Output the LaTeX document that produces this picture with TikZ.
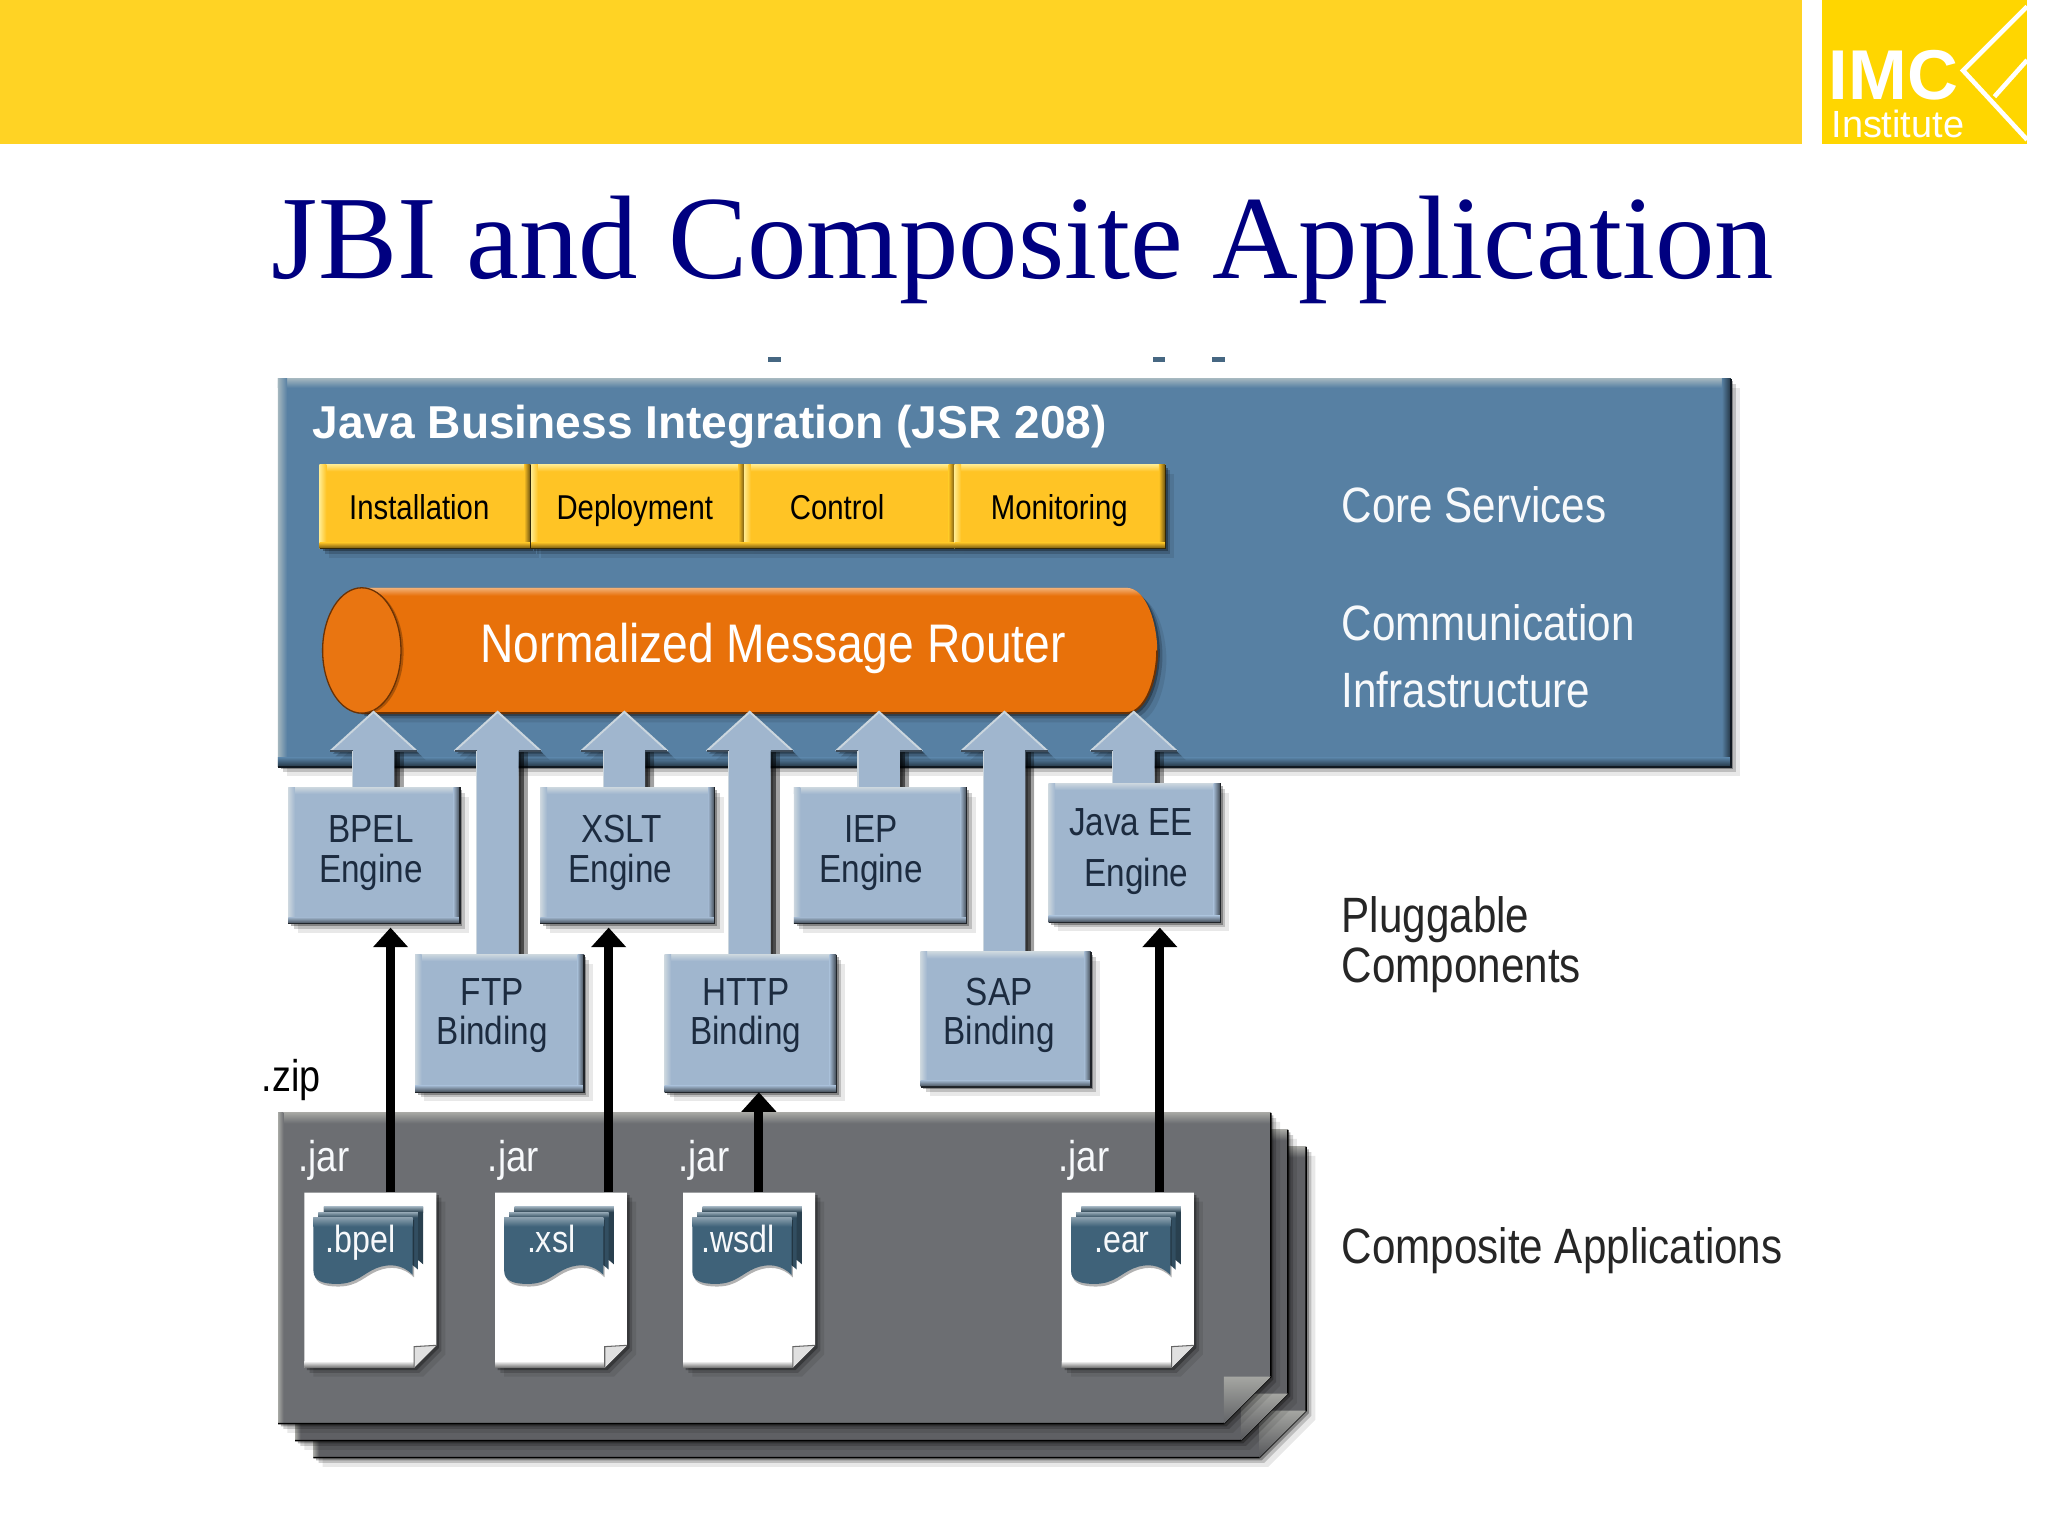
\documentclass[tikz,border=0pt]{standalone}
\usepackage{fontspec}
\setmainfont{Liberation Sans}
\newfontfamily\cond{Liberation Sans}[FakeStretch=0.85]
\newfontfamily\serifa{Liberation Serif}
\usetikzlibrary{arrows.meta,shadows,fit}

\definecolor{band}{HTML}{FFD324}
\definecolor{logoc}{HTML}{FFD600}
\definecolor{navy}{HTML}{000080}
\definecolor{panelc}{HTML}{5780A3}
\definecolor{panelchi}{HTML}{A3B6BE}
\definecolor{yel}{HTML}{FFC425}
\definecolor{yelhi}{HTML}{FFE98A}
\definecolor{orng}{HTML}{E8710A}
\definecolor{orngd}{HTML}{6A3205}
\definecolor{steel}{HTML}{A0B6CE}
\definecolor{steelhi}{HTML}{CBD6DE}
\definecolor{steello}{HTML}{3E4C5A}
\definecolor{ink}{HTML}{1C2B3F}
\definecolor{sheet}{HTML}{6C6E72}
\definecolor{sheethi}{HTML}{A5A6A2}
\definecolor{sheetb}{HTML}{5F6064}
\definecolor{scroll}{HTML}{3F6279}

\tikzset{
  soft/.style={drop shadow={shadow xshift=2pt,shadow yshift=-2pt,fill=black,opacity=.3},
               drop shadow={shadow xshift=4pt,shadow yshift=-4pt,fill=black,opacity=.18},
               drop shadow={shadow xshift=7pt,shadow yshift=-7pt,fill=black,opacity=.09}},
  txt/.style={inner sep=0,anchor=base,font=\cond\fontsize{#1}{#1}\selectfont},
  tier/.style={inner sep=0,anchor=base west,font=\cond\fontsize{38}{38}\selectfont},
  feed/.style={line width=7pt,black,-{Triangle[width=26pt,length=15pt]}},
}

% filled box with lit top/left and dark bottom/right edges
\newcommand\bevelbox[7][5pt]{%
  \node[fit={(#3,#4)(#5,#6)},inner sep=0,fill=#7,soft] (#2) {};
  \shade[top color=#7hi,bottom color=#7] (#2.north west) rectangle ([yshift=-#1]#2.north east);
  \shade[left color=#7hi,right color=#7] (#2.north west) rectangle ([xshift=#1]#2.south west);
  \shade[left color=#7,right color=#7!40!black] ([xshift=-#1]#2.north east) rectangle (#2.south east);
  \shade[top color=#7,bottom color=#7!40!black] ([yshift=#1]#2.south west) rectangle (#2.south east);
  \draw[#7!20!black,line width=1pt] (#2.north east) -- (#2.south east) -- (#2.south west);
}

% block arrow from a box up to the router: tip x, lower end y
\newcommand\blockarrow[2]{%
  \fill[black,opacity=.6] (#1+16,576) rectangle (#1+20,#2);
  \fill[black,opacity=.3] (#1+20,576) rectangle (#1+23,#2);
  \fill[steel,soft] (#1,545) -- (#1+33,575) -- (#1+16,575) -- (#1+16,#2)
    -- (#1-16,#2) -- (#1-16,575) -- (#1-33,575) -- cycle;
  \draw[steelhi,line width=1.5pt] (#1-33,575) -- (#1,545) -- (#1+33,575);
  \draw[steello,line width=1.5pt] (#1-33,575) -- (#1-16,575) (#1+16,575) -- (#1+33,575);
  \draw[steelhi,line width=1pt] (#1-16,575) -- (#1-16,#2);
}

% stacked sheet with folded corner, top left corner given
\newcommand\pilesheet[3]{%
  \begin{scope}[shift={(#1,#2)}]
    \fill[#3,soft] (0,0) -- (760,0) -- (760,202) -- (724,238) -- (0,238) -- cycle;
    \shade[top color=sheethi,bottom color=#3] (0,0) rectangle (760,8);
    \shade[left color=sheethi,right color=#3] (0,0) rectangle (4,238);
    \draw[black,line width=1.2pt] (760,0) -- (760,202) -- (724,238) -- (0,238);
    \shade[top color=sheethi,bottom color=#3!90!black] (724,202) -- (760,202) -- (724,238) -- cycle;
  \end{scope}
}

% document page with a scroll icon on it: name, left x, label, label x
\newcommand\docpage[4]{%
  \begin{scope}[shift={(#2,913)}]
    \fill[white,soft] (0,0) -- (101,0) -- (101,117) -- (84,134) -- (0,134) -- cycle;
    \node[fit={(0,0)(101,134)},inner sep=0] (#1) {};
    \shade[top color=white,bottom color=black!55] (0,129) rectangle (84,134);
    \fill[black!12] (84,134) -- (84,118) -- (101,117) -- cycle;
    \draw[black!60,line width=.8pt] (84,134) -- (84,118) -- (101,117);
    \foreach \dx/\dy/\c in {8/-8/scroll!65!black,4/-4/scroll!80!black} {
      \fill[\c,shift={(\dx,\dy)}] (7,19) -- (83,19) -- (83,63)
        .. controls (75,55) and (65,54) .. (55,58)
        .. controls (45,62) and (40,70) .. (25,70)
        .. controls (15,70) and (7,68) .. (7,60) -- cycle;
      \shade[top color=scroll!55!white,bottom color=\c,shift={(\dx,\dy)}] (7,19) rectangle (83,23);
    }
    \fill[scroll,drop shadow={shadow xshift=1pt,shadow yshift=-2pt,fill=black,opacity=.3}] (7,19) -- (83,19) -- (83,63)
      .. controls (75,55) and (65,54) .. (55,58)
      .. controls (45,62) and (40,70) .. (25,70)
      .. controls (15,70) and (7,68) .. (7,60) -- cycle;
    \shade[top color=scroll!60!white,bottom color=scroll] (7,19) rectangle (83,26);
  \end{scope}
  \node[txt=29,text=white!92!steel] (#1-lbl) at (#4,959) {#3};
}

\begin{document}
\begin{tikzpicture}[x=1pt,y=-1pt]
\useasboundingbox (0,0) rectangle (1568,1176);
\fill[white] (0,0) rectangle (1568,1176);

% header band and logo
\fill[band] (0,0) rectangle (1380,110);
\fill[logoc] (1395,0) rectangle (1552,110);
\draw[white,line width=3.5pt] (1552,5) -- (1503,54) -- (1552,107);
\draw[white,line width=3.5pt] (1552,46) -- (1527,74);
\node[inner sep=0,anchor=base west,text=white,font=\bfseries\fontsize{54}{54}\selectfont] (imc) at (1400,76) {IMC};
\node[inner sep=0,anchor=base west,text=white,font=\fontsize{29}{29}\selectfont] (inst) at (1402,105) {Institute};

% title
\node[inner sep=0,anchor=base west,text=navy,font=\serifa\fontsize{91}{91}\selectfont] (title) at (208,213) {JBI and Composite Application};

% stray marks above the panel
\fill[panelc!80!black] (588,273) rectangle (598,277);
\fill[panelc!80!black] (883,273) rectangle (892,277);
\fill[panelc!80!black] (928,273) rectangle (938,277);

% JBI panel
\bevelbox[7pt]{panel}{213}{290}{1325}{587}{panelc}
\node[inner sep=0,anchor=base west,text=white,font=\bfseries\fontsize{35.3}{35.3}\selectfont] (jbi) at (239,336) {Java Business Integration (JSR 208)};

% core service boxes
\bevelbox{inst1}{245}{356}{406}{420}{yel}
\bevelbox{depl}{407}{356}{570}{420}{yel}
\bevelbox{ctrl}{570}{356}{731}{420}{yel}
\bevelbox{moni}{731}{356}{892}{420}{yel}
\node[txt=26.4,text=black] (t1) at (321,398) {Installation};
\node[txt=26.4,text=black] (t2) at (486,398) {Deployment};
\node[txt=26.4,text=black] (t3) at (641,398) {Control};
\node[txt=26.4,text=black] (t4) at (811,398) {Monitoring};

% router cylinder
\fill[orng,soft] (277,450) -- (862,450) .. controls (878,450) and (886,478) .. (886,498)
  .. controls (886,518) and (878,546) .. (862,546) -- (277,546) -- cycle;
\begin{scope}
  \clip (277,450) -- (862,450) .. controls (878,450) and (886,478) .. (886,498) -- (277,498) -- cycle;
  \shade[top color=orng!55!white,bottom color=orng] (277,450) rectangle (886,456);
\end{scope}
\draw[orngd,line width=1.5pt] (277,546) -- (862,546) .. controls (878,546) and (886,518) .. (886,498);
\draw[orngd,fill=orng!97!white,line width=1pt,drop shadow={shadow xshift=2pt,shadow yshift=-1pt,fill=black,opacity=.25}] (277,498) ellipse [x radius=30,y radius=48];
\node[txt=41.6,text=white] (nmr) at (592,507) {Normalized Message Router};

% block arrows, engines and bindings
\blockarrow{286}{610}
\blockarrow{381}{740}
\blockarrow{478}{610}
\blockarrow{574}{740}
\blockarrow{673}{610}
\blockarrow{769}{740}
\blockarrow{868}{610}
\bevelbox{bpel}{221}{603}{352}{707}{steel}
\bevelbox{xslt}{414}{603}{547}{707}{steel}
\bevelbox{iep}{608}{603}{740}{707}{steel}
\bevelbox{jee}{803}{600}{934}{706}{steel}
\bevelbox{ftp}{318}{731}{447}{836}{steel}
\bevelbox{http}{509}{731}{640}{836}{steel}
\bevelbox{sap}{705}{729}{835}{832}{steel}
\node[txt=30,text=ink] (b1) at (284,645) {BPEL};
\node[txt=30,text=ink] (b2) at (284,676) {Engine};
\node[txt=30,text=ink] (x1) at (476,645) {XSLT};
\node[txt=30,text=ink] (x2) at (475,676) {Engine};
\node[txt=30,text=ink] (i1) at (667,645) {IEP};
\node[txt=30,text=ink] (i2) at (667,676) {Engine};
\node[txt=30,text=ink] (j1) at (866,640) {Java EE};
\node[txt=30,text=ink] (j2) at (870,679) {Engine};
\node[txt=30,text=ink] (f1) at (377,770) {FTP};
\node[txt=30,text=ink] (f2) at (377,800) {Binding};
\node[txt=30,text=ink] (h1) at (571,770) {HTTP};
\node[txt=30,text=ink] (h2) at (571,800) {Binding};
\node[txt=30,text=ink] (s1) at (765,770) {SAP};
\node[txt=30,text=ink] (s2) at (765,800) {Binding};

% composite application sheets
\pilesheet{240}{878}{sheetb}
\pilesheet{226}{865}{sheetb}
\pilesheet{213}{852}{sheet}

\node[txt=34,text=black] (zip) at (223,836) {.zip};
\node[txt=33,text=white!92!steel] (j1a) at (248,897) {.jar};
\node[txt=33,text=white!92!steel] (j2a) at (393,897) {.jar};
\node[txt=33,text=white!92!steel] (j3a) at (539,897) {.jar};
\node[txt=33,text=white!92!steel] (j4a) at (830,897) {.jar};

\docpage{fbpel}{233}{.bpel}{276}
\docpage{fxsl}{379}{.xsl}{422}
\docpage{fwsdl}{523}{.wsdl}{565}
\docpage{fear}{813}{.ear}{859}

% deployment arrows
\draw[feed] ([xshift=15.5pt]fbpel.north) -- ([xshift=12.5pt,yshift=-3pt]bpel.south);
\draw[feed] ([xshift=36.5pt]fxsl.north) -- ([xshift=-14.5pt,yshift=-3pt]xslt.south);
\draw[feed] ([xshift=7.5pt]fwsdl.north) -- ([xshift=6.5pt]http.south);
\draw[feed] ([xshift=24.5pt]fear.north) -- ([xshift=19.5pt,yshift=-4pt]jee.south);

% tier captions
\node[tier,text=white!92!steel] (c1) at (1027,400) {Core Services};
\node[tier,text=white!92!steel] (c2) at (1027,490) {Communication};
\node[tier,text=white!92!steel] (c3) at (1027,542) {Infrastructure};
\node[tier,text=black!85] (c4) at (1027,714) {Pluggable};
\node[tier,text=black!85] (c5) at (1027,752) {Components};
\node[tier,text=black!85] (c6) at (1027,967) {Composite Applications};
\end{tikzpicture}
\end{document}
